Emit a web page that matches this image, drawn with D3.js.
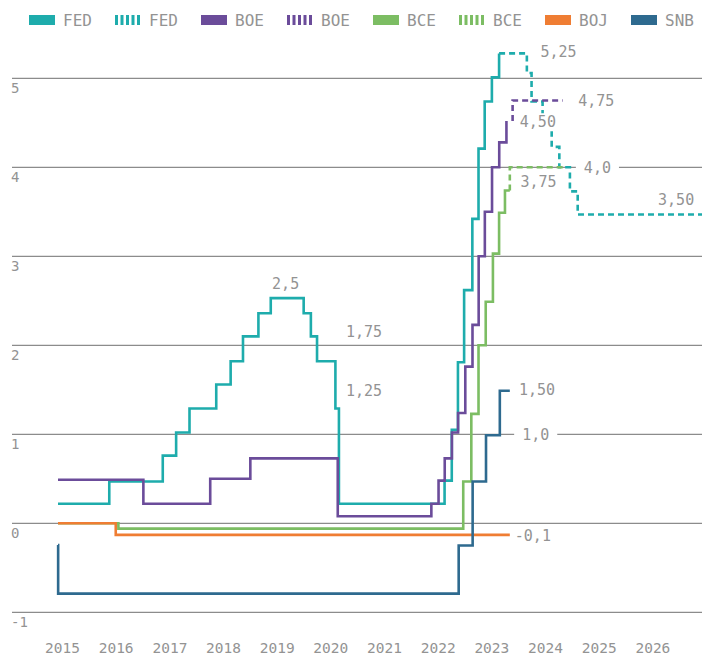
<!DOCTYPE html>
<html lang="en">
<head>
<meta charset="UTF-8">
<title>Taux directeurs</title>
<script src="https://d3js.org/d3.v7.min.js"></script>
<style>
    body, html { margin: 0; background: #ffffff; }
    svg { display: block; }
    text { font-family: 'DejaVu Sans Mono', monospace; fill: #939393; }
</style>
</head>
<body>
<svg class="chart" width="702" height="657"></svg>
<script>
    // taux (dates des changements, valeur après le changement)
    const fedDates = ["2015-01-01", "2015-12-16", "2016-12-14", "2017-03-15", "2017-06-14", "2017-12-13",
        "2018-03-21", "2018-06-13", "2018-09-26", "2018-12-19", "2019-07-31", "2019-09-18", "2019-10-30",
        "2020-03-03", "2020-03-27", "2022-03-16", "2022-05-04", "2022-06-15", "2022-07-27", "2022-09-21",
        "2022-11-02", "2022-12-14", "2023-02-01", "2023-03-22"];
    const fedValues = [0.22, 0.47, 0.76, 1.02, 1.29, 1.56, 1.82, 2.10, 2.36, 2.53, 2.36, 2.10, 1.82,
        1.29, 0.22, 0.48, 1.05, 1.81, 2.62, 3.42, 4.21, 4.74, 5.01, 5.28];

    const fedProjDates = ["2023-03-22", "2023-09-27", "2023-10-29", "2024-01-12", "2024-03-14",
        "2024-05-05", "2024-07-16", "2024-09-07", "2027-01-01"];
    const fedProjValues = [5.28, 5.06, 4.74, 4.50, 4.23, 4.00, 3.73, 3.47, 3.47];

    const boeDates = ["2015-01-01", "2016-08-04", "2017-11-02", "2018-08-02", "2020-03-19", "2021-12-16",
        "2022-02-03", "2022-03-17", "2022-05-05", "2022-06-16", "2022-08-04", "2022-09-22", "2022-11-03",
        "2022-12-15", "2023-02-02", "2023-03-23", "2023-05-11"];
    const boeValues = [0.49, 0.22, 0.50, 0.73, 0.08, 0.22, 0.48, 0.73, 1.02, 1.24, 1.76, 2.23, 3.00,
        3.50, 4.00, 4.28, 4.52];

    const boeProjDates = ["2023-06-22", "2023-06-22", "2024-05-28"];
    const boeProjValues = [4.52, 4.75, 4.75];

    const bceDates = ["2015-01-01", "2016-02-16", "2022-07-21", "2022-09-14", "2022-11-02", "2022-12-21",
        "2023-02-08", "2023-03-22", "2023-05-01", "2023-06-03"];
    const bceValues = [0.00, -0.06, 0.47, 1.23, 2.00, 2.49, 3.03, 3.49, 3.74, 3.74];

    const bceProjDates = ["2023-06-03", "2023-06-03", "2024-06-13"];
    const bceProjValues = [3.74, 4.00, 4.00];

    const bojDates = ["2015-01-01", "2016-01-29", "2023-06-03"];
    const bojValues = [0.00, -0.13, -0.13];

    const snbDates = ["2015-01-01", "2015-01-02", "2022-06-20", "2022-09-23", "2022-12-23", "2023-03-27", "2023-06-03"];
    const snbValues = [-0.245, -0.79, -0.25, 0.47, 0.99, 1.49, 1.49];

    const legendLabels = ["FED", "FED", "BOE", "BOE", "BCE", "BCE", "BOJ", "SNB"];
    const yearTicks = [2015, 2016, 2017, 2018, 2019, 2020, 2021, 2022, 2023, 2024, 2025, 2026];
    const yTicks = [-1, 0, 1, 2, 3, 4, 5];

    const annoTexts = ["2,5", "1,75", "1,25", "5,25", "4,75", "4,50", "4,0", "3,75", "3,50", "1,50", "1,0", "-0,1"];
    const annoDates = ["2018-12-28", "2020-05-14", "2020-05-14", "2023-12-29", "2024-09-11", "2023-08-10",
        "2024-10-19", "2023-08-14", "2026-03-08", "2023-08-04", "2023-08-26", "2023-07-07"];
    const annoValues = [2.63, 2.09, 1.43, 5.24, 4.69, 4.45, 3.94, 3.78, 3.58, 1.44, 0.94, -0.2];
    const annoOnGrid = ["4,0", "1,0"];

    const colors = { FED: "#1eacac", BOE: "#6b4c9a", BCE: "#7cbd63", BOJ: "#ef7d33", SNB: "#2e6a8f" };

    const parse = d3.timeParse("%Y-%m-%d");
    const zip = (ds, vs) => ds.map((d, i) => [parse(d), vs[i]]);

    const series = [
        { key: "FED", dashed: false, data: zip(fedDates, fedValues) },
        { key: "FED", dashed: true, data: zip(fedProjDates, fedProjValues) },
        { key: "BOE", dashed: false, data: zip(boeDates, boeValues) },
        { key: "BOE", dashed: true, data: zip(boeProjDates, boeProjValues) },
        { key: "BCE", dashed: false, data: zip(bceDates, bceValues) },
        { key: "BCE", dashed: true, data: zip(bceProjDates, bceProjValues) },
        { key: "BOJ", dashed: false, data: zip(bojDates, bojValues) },
        { key: "SNB", dashed: false, data: zip(snbDates, snbValues) }
    ];

    const svg = d3.select("svg.chart");

    const x = d3.scaleTime()
        .domain([parse("2015-01-01"), parse("2027-01-01")])
        .range([58, 702]);
    const y = d3.scaleLinear()
        .domain([-1, 5])
        .range([612.3, 78.3]);

    // grille horizontale + valeurs à gauche
    const grid = svg.append("g");
    grid.selectAll("line")
        .data(yTicks)
        .enter().append("line")
        .attr("x1", 12).attr("x2", 702)
        .attr("y1", d => y(d)).attr("y2", d => y(d))
        .attr("stroke", "#8c8c8c")
        .attr("stroke-width", 1.3);
    grid.selectAll("text")
        .data(yTicks)
        .enter().append("text")
        .attr("x", 11)
        .attr("y", d => y(d) + 15)
        .attr("font-size", "14px")
        .text(d => d);

    // années
    const xAxis = d3.axisBottom(x)
        .tickValues(yearTicks.map(yr => new Date(yr, 0, 1)))
        .tickSize(0)
        .tickFormat(d3.timeFormat("%Y"));
    svg.append("g")
        .attr("transform", "translate(4,640)")
        .call(xAxis)
        .call(g => g.select(".domain").remove())
        .selectAll("text")
        .attr("fill", "#939393")
        .style("font-family", "'DejaVu Sans Mono', monospace")
        .style("font-size", "14.5px");

    const line = d3.line()
        .x(d => x(d[0]))
        .y(d => y(d[1]))
        .curve(d3.curveStepAfter);

    svg.append("g").selectAll("path")
        .data(series)
        .enter().append("path")
        .attr("d", d => line(d.data))
        .attr("fill", "none")
        .attr("stroke", d => colors[d.key])
        .attr("stroke-width", 2.6)
        .attr("stroke-dasharray", d => d.dashed ? "6,4" : null);

    // étiquettes sur fond blanc
    const anno = svg.append("g").selectAll("g")
        .data(annoTexts)
        .enter().append("g");
    anno.each(function (t, i) {
        const g = d3.select(this);
        const px = x(parse(annoDates[i]));
        const py = y(annoValues[i]);
        const txt = g.append("text")
            .attr("x", px)
            .attr("y", py)
            .attr("font-size", "15px")
            .text(t);
        const bb = txt.node().getBBox();
        const pad = annoOnGrid.includes(t) ? 8 : 3;
        g.insert("rect", "text")
            .attr("x", bb.x - pad)
            .attr("y", bb.y)
            .attr("width", bb.width + 2 * pad)
            .attr("height", bb.height)
            .attr("fill", "#ffffff");
    });

    // légende
    const legend = svg.append("g").selectAll("g")
        .data(series)
        .enter().append("g")
        .attr("transform", (d, i) => `translate(${29 + i * 86},0)`);
    legend.append("line")
        .attr("x1", 0).attr("x2", 26)
        .attr("y1", 20).attr("y2", 20)
        .attr("stroke", d => colors[d.key])
        .attr("stroke-width", 10)
        .attr("stroke-dasharray", d => d.dashed ? "3,2.5" : null);
    legend.append("text")
        .attr("x", 34)
        .attr("y", 25.5)
        .attr("font-size", "16px")
        .text((d, i) => legendLabels[i]);
</script>
</body>
</html>
